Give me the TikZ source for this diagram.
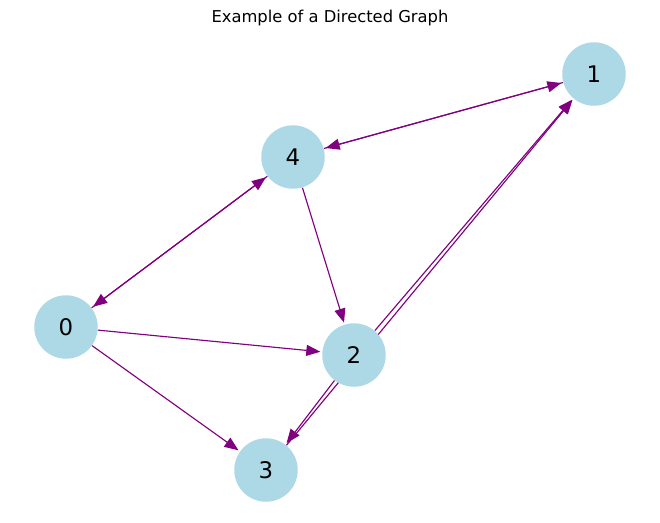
\documentclass[tikz,border=0pt]{standalone}
\usepackage{fontspec}
\setmainfont{DejaVu Sans}
\usetikzlibrary{arrows.meta,backgrounds}
\definecolor{nodeblue}{RGB}{173,216,230}
\definecolor{edgepurple}{RGB}{128,0,128}

\begin{document}
\begin{tikzpicture}[x=0.02cm,y=-0.02cm,
    vertex/.style={circle,fill=nodeblue,minimum size=1.27cm,inner sep=0pt,
      font=\fontsize{13}{15}\selectfont},
    link/.style={edgepurple,line width=0.65pt,
      -{Triangle[length=0.28cm,width=0.22cm]},shorten >=1pt}]
  \useasboundingbox (0,0) rectangle (660,522);
  \node (title) at (330,18) {\fontsize{9.3}{11}\selectfont Example of a Directed Graph};

  \node[vertex] (n0) at (66,327) {0};
  \node[vertex] (n1) at (594,74) {1};
  \node[vertex] (n2) at (354,355) {2};
  \node[vertex] (n3) at (266,470) {3};
  \node[vertex] (n4) at (293,157) {4};

  \begin{pgfonlayer}{background}
    \foreach \a/\b in {0/4,4/0,0/2,0/3,4/2,4/1,1/4,2/1,2/3,3/1}
      \draw[link] (n\a) -- (n\b);
  \end{pgfonlayer}
\end{tikzpicture}
\end{document}
